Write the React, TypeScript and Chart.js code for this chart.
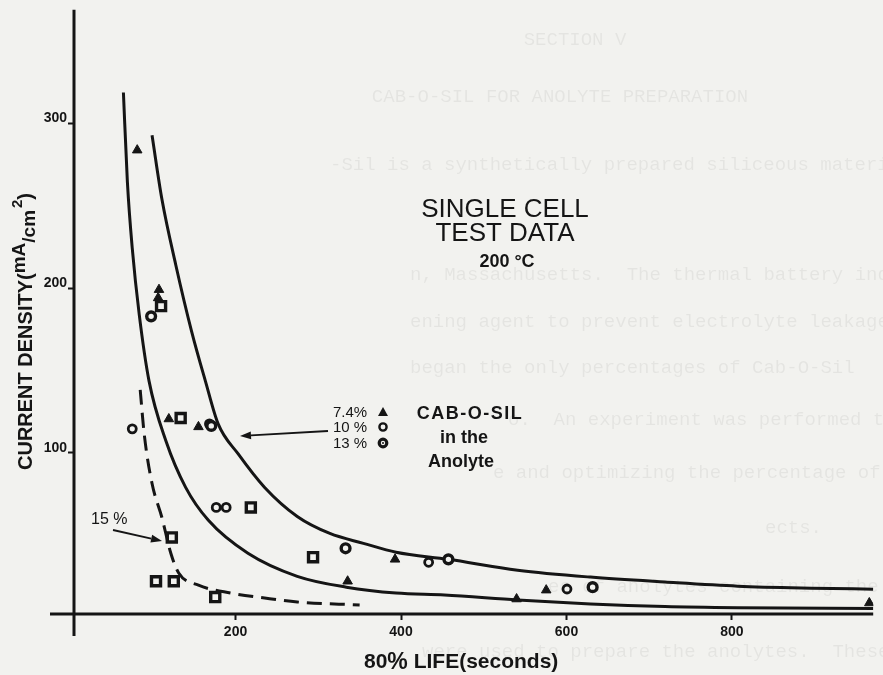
import { useEffect, useRef } from "react";
import { Chart, registerables } from "chart.js";
Chart.register(...registerables);

// ---- axis ticks ----
const xTicks = [200, 400, 600, 800];
const yTicks = [100, 200, 300];

// ---- fitted curves ----
const innerCurveX = [64.5, 69.3, 75.2, 83.6, 95.5, 115.8, 139.7, 167.2, 215, 274.6, 334, 394, 452.5, 541, 629, 719, 807, 971];
const innerCurveY = [318.7, 264.4, 224, 184, 143.5, 107.3, 79, 59, 39, 25, 18.4, 14.8, 13.6, 10.6, 8.2, 6.6, 5.9, 5.4];

const outerCurveX = [99.1, 111, 127.8, 146.9, 163.6, 179, 203, 235.2, 274.6, 314, 354.6, 394, 457, 541, 629, 719, 807, 896, 971];
const outerCurveY = [292.7, 254, 214, 173.7, 143.5, 117.5, 99.4, 78.9, 61.3, 51, 45, 39.6, 35.3, 28.7, 24.5, 21.5, 19, 17.8, 17.2];

const dashedCurveX = [84.8, 89.6, 99.1, 111, 121.8, 131.3, 155.2, 194.6, 235.2, 274.6, 350];
const dashedCurveY = [138.2, 111.5, 81.3, 60.7, 39, 27, 19.6, 14.8, 11.8, 9.4, 7.6];

// ---- measured points ----
const tri74X = [81.2, 107.5, 106.5, 119.4, 155.2, 335.5, 392.8, 539.7, 575.5, 966];
const tri74Y = [283.7, 199, 194, 120.5, 115.7, 22, 35.3, 11.2, 16.6, 8.8];

const circ10X = [75.2, 168.5, 176.7, 188.7, 433.4, 600.6];
const circ10Y = [114.5, 117.5, 66.8, 66.8, 33.5, 17.3];

const circ13X = [98, 170.7, 333, 457.3, 631.6];
const circ13Y = [182.8, 116.3, 42, 35.3, 18.4];

const sq15X = [110, 133.7, 218.5, 123, 103.9, 125.4, 175.5, 293.7];
const sq15Y = [189, 121.1, 66.8, 48.6, 22, 22, 12.4, 36.6];

// ---- texts ----
const titleLines = ["SINGLE CELL", "TEST DATA", "200 °C"];
const legendPct = ["7.4%", "10 %", "13 %"];
const legendBlock = ["CAB-O-SIL", "in the", "Anolyte"];
const label15 = "15 %";
const showThrough = [
  "SECTION V",
  "CAB-O-SIL FOR ANOLYTE PREPARATION",
  "-Sil is a synthetically prepared siliceous material manufactured",
  "n, Massachusetts.  The thermal battery industry",
  "ening agent to prevent electrolyte leakage",
  "began the only percentages of Cab-O-Sil",
  "o.  An experiment was performed to study the",
  "e and optimizing the percentage of Cab-O-Sil used",
  "ects.",
  "es of anolytes containing the respective",
  "were used to prepare the anolytes.  These materials",
];
// layout of the faint show-through lines: [x, baseline y, centered]
const showLayout: [number, number, boolean][] = [
  [575, 45, true], [560, 102, true], [330, 170, false], [410, 280, false], [410, 327, false],
  [410, 373, false], [508, 425, false], [493, 478, false], [765, 533, false], [548, 592, false], [422, 657, false],
];

const paper = "#f2f2ef";
const ink = "#151515";
const pts = (xs: number[], ys: number[]) => xs.map((x, i) => ({ x, y: ys[i] }));

const bgPlugin = {
  id: "bg",
  beforeDraw(chart: any) {
    const { ctx, width, height } = chart;
    ctx.save();
    ctx.fillStyle = paper;
    ctx.fillRect(0, 0, width, height);
    ctx.fillStyle = "rgba(0,0,0,0.055)";
    ctx.font = '19px "Liberation Mono"';
    ctx.textBaseline = "alphabetic";
    showThrough.forEach((t, i) => {
      const [x, y, c] = showLayout[i];
      ctx.textAlign = c ? "center" : "left";
      ctx.fillText(t, x, y);
    });
    ctx.restore();
  },
};

const axesPlugin = {
  id: "axesLines",
  afterDraw(chart: any) {
    const { ctx, chartArea } = chart;
    ctx.save();
    ctx.strokeStyle = ink;
    ctx.lineWidth = 3;
    ctx.beginPath();
    ctx.moveTo(chartArea.left, chartArea.top);
    ctx.lineTo(chartArea.left, chartArea.bottom + 22);
    ctx.moveTo(chartArea.left - 24, chartArea.bottom);
    ctx.lineTo(chartArea.right, chartArea.bottom);
    ctx.stroke();
    ctx.restore();
  },
};

function arrow(ctx: CanvasRenderingContext2D, x1: number, y1: number, x2: number, y2: number) {
  const a = Math.atan2(y2 - y1, x2 - x1);
  const hl = 11, hw = 4;
  const bx = x2 - hl * Math.cos(a), by = y2 - hl * Math.sin(a);
  ctx.beginPath();
  ctx.moveTo(x1, y1);
  ctx.lineTo(bx, by);
  ctx.stroke();
  ctx.beginPath();
  ctx.moveTo(x2, y2);
  ctx.lineTo(bx + hw * Math.sin(a), by - hw * Math.cos(a));
  ctx.lineTo(bx - hw * Math.sin(a), by + hw * Math.cos(a));
  ctx.closePath();
  ctx.fill();
}

const textPlugin = {
  id: "texts",
  afterDraw(chart: any) {
    const { ctx } = chart;
    ctx.save();
    ctx.fillStyle = ink;
    ctx.strokeStyle = ink;
    ctx.textBaseline = "alphabetic";

    // title
    ctx.textAlign = "center";
    ctx.font = '26px "Liberation Sans"';
    ctx.fillText(titleLines[0], 505, 217);
    ctx.fillText(titleLines[1], 505, 241);
    ctx.font = 'bold 18px "Liberation Sans"';
    ctx.fillText(titleLines[2], 507, 267);

    // y axis title (rotated)
    ctx.save();
    ctx.translate(32, 470);
    ctx.rotate(-Math.PI / 2);
    ctx.textAlign = "left";
    let x = 0;
    const seg = (t: string, font: string, dy: number, gap = 0) => {
      ctx.font = font;
      x += gap;
      ctx.fillText(t, x, dy);
      x += ctx.measureText(t).width;
    };
    seg("CURRENT DENSITY(", 'bold 20px "Liberation Sans"', 0);
    seg("mA", 'bold 19px "Liberation Sans"', -7);
    seg("/cm", 'bold 19px "Liberation Sans"', 3);
    seg("2", 'bold 15px "Liberation Sans"', -10, 2);
    seg(")", 'bold 20px "Liberation Sans"', 0);
    ctx.restore();

    // x axis title
    ctx.textAlign = "left";
    let xx = 364;
    const xs = (t: string, font: string, dy: number) => {
      ctx.font = font;
      ctx.fillText(t, xx, 668 + dy);
      xx += ctx.measureText(t).width;
    };
    xs("80", 'bold 21px "Liberation Sans"', 0);
    xs("%", 'bold 23px "Liberation Sans"', 1);
    xs(" LIFE", 'bold 21px "Liberation Sans"', 0);
    xs("(seconds)", 'bold 21px "Liberation Sans"', 0);

    // legend percentages with symbols
    ctx.font = '15px "Liberation Sans"';
    const lb = [417, 432, 448];
    legendPct.forEach((t, i) => ctx.fillText(t, 333, lb[i]));
    ctx.beginPath();
    ctx.moveTo(383, lb[0] - 10);
    ctx.lineTo(388, lb[0] - 1);
    ctx.lineTo(378, lb[0] - 1);
    ctx.closePath();
    ctx.fill();
    ctx.lineWidth = 2.4;
    ctx.beginPath();
    ctx.arc(383, lb[1] - 5, 3.6, 0, Math.PI * 2);
    ctx.stroke();
    ctx.lineWidth = 3.2;
    ctx.beginPath();
    ctx.arc(383, lb[2] - 5, 3.8, 0, Math.PI * 2);
    ctx.stroke();
    ctx.beginPath();
    ctx.arc(383, lb[2] - 5, 1, 0, Math.PI * 2);
    ctx.fill();

    ctx.textAlign = "center";
    ctx.font = 'bold 18px "Liberation Sans"';
    (ctx as any).letterSpacing = "1.5px";
    ctx.fillText(legendBlock[0], 470, 419);
    (ctx as any).letterSpacing = "0px";
    ctx.fillText(legendBlock[1], 464, 443);
    ctx.fillText(legendBlock[2], 461, 467);

    ctx.lineWidth = 2;
    arrow(ctx, 328, 431, 240, 436);

    // 15 % label
    ctx.textAlign = "left";
    ctx.font = '16px "Liberation Sans"';
    ctx.fillText(label15, 91, 524);
    ctx.lineWidth = 1.8;
    arrow(ctx, 113, 530, 162, 541);

    ctx.restore();
  },
};

export default function App() {
  const ref = useRef<HTMLCanvasElement>(null);
  useEffect(() => {
    document.body.style.margin = "0";
    const curve = (xs: number[], ys: number[], dash: number[]) => ({
      type: "line" as const,
      data: pts(xs, ys),
      showLine: true,
      borderColor: ink,
      borderWidth: 3,
      borderDash: dash,
      pointRadius: 0,
      cubicInterpolationMode: "monotone" as const,
      fill: false,
    });
    const chart = new Chart(ref.current!, {
      type: "scatter",
      data: {
        datasets: [
          {
            label: "7.4%",
            data: pts(tri74X, tri74Y),
            pointStyle: "triangle",
            pointRadius: 5.5,
            backgroundColor: ink,
            borderColor: ink,
            borderWidth: 1,
          },
          {
            label: "13%",
            data: pts(circ13X, circ13Y),
            pointStyle: "circle",
            pointRadius: 4.4,
            backgroundColor: paper,
            borderColor: ink,
            borderWidth: 3.4,
          },
          {
            label: "10%",
            data: pts(circ10X, circ10Y),
            pointStyle: "circle",
            pointRadius: 4,
            backgroundColor: paper,
            borderColor: ink,
            borderWidth: 2.8,
          },
          {
            label: "15%",
            data: pts(sq15X, sq15Y),
            pointStyle: "rect",
            pointRadius: 6.4,
            backgroundColor: paper,
            borderColor: ink,
            borderWidth: 3.4,
          },
          curve(innerCurveX, innerCurveY, []) as any,
          curve(outerCurveX, outerCurveY, []) as any,
          curve(dashedCurveX, dashedCurveY, [15, 8]) as any,
        ],
      },
      options: {
        animation: false,
        responsive: false,
        devicePixelRatio: 1,
        layout: { padding: { top: 7, left: 0, right: 0, bottom: 0 } },
        plugins: { legend: { display: false }, tooltip: { enabled: false } },
        events: [],
        scales: {
          x: {
            type: "linear",
            min: 4.78,
            max: 970.7,
            afterFit: (s: any) => { s.height = 61; },
            afterBuildTicks: (s: any) => { s.ticks = xTicks.map((v) => ({ value: v })); },
            border: { display: false },
            grid: { display: true, drawOnChartArea: false, drawTicks: true, tickLength: 6, tickWidth: 2, tickColor: ink },
            ticks: { color: ink, font: { family: "Liberation Sans", weight: "bold", size: 14 }, padding: 4, maxRotation: 0, autoSkip: false },
          },
          y: {
            type: "linear",
            min: 2.11,
            max: 368.9,
            afterFit: (s: any) => { s.width = 74; },
            afterBuildTicks: (s: any) => { s.ticks = yTicks.map((v) => ({ value: v })); },
            border: { display: false },
            grid: { display: true, drawOnChartArea: false, drawTicks: true, tickLength: 6, tickWidth: 2, tickColor: ink },
            ticks: { color: ink, font: { family: "Liberation Sans", weight: "bold", size: 14 }, padding: 1, labelOffset: -5, autoSkip: false },
          },
        },
      } as any,
      plugins: [bgPlugin, axesPlugin, textPlugin],
    });
    return () => chart.destroy();
  }, []);
  return (
    <div style={{ width: 883, height: 675 }}>
      <canvas ref={ref} width={883} height={675} style={{ display: "block" }} />
    </div>
  );
}
